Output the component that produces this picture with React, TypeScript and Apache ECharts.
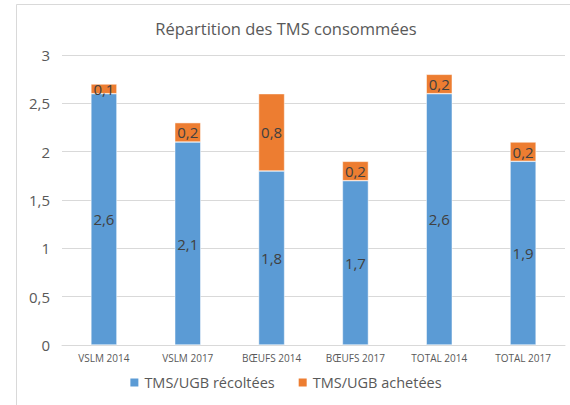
import React, { useEffect, useRef } from "react";
import * as echarts from "echarts";

const categories = ["VSLM 2014", "VSLM 2017", "BŒUFS 2014", "BŒUFS 2017", "TOTAL 2014", "TOTAL 2017"];
const recoltees = [2.6, 2.1, 1.8, 1.7, 2.6, 1.9];
const achetees = [0.1, 0.2, 0.8, 0.2, 0.2, 0.2];
const seriesNames = ["TMS/UGB récoltées", "TMS/UGB achetées"];
const titleText = "Répartition des TMS consommées";

const FONT = "'Open Sans', sans-serif";
const fmt = (v: number) => String(v).replace(".", ",");

export default function App() {
  const ref = useRef<HTMLDivElement>(null);
  useEffect(() => {
    if (!ref.current) return;
    const chart = echarts.init(ref.current, null, { renderer: "svg" });
    const label = {
      show: true,
      position: "inside" as const,
      color: "#404040",
      fontSize: 15,
      fontFamily: FONT,
      formatter: (p: any) => fmt(p.value),
    };
    chart.setOption({
      animation: false,
      backgroundColor: "#fff",
      textStyle: { fontFamily: FONT },
      title: {
        text: titleText,
        left: 281,
        textAlign: "center",
        top: 15,
        textStyle: { color: "#595959", fontSize: 16.5, fontWeight: "normal", fontFamily: FONT },
      },
      graphic: [
        {
          type: "rect",
          shape: { x: 16.5, y: 4.5, width: 700, height: 600 },
          style: { fill: "none", stroke: "#d9d9d9", lineWidth: 1 },
          silent: true,
        },
      ],
      legend: {
        bottom: 10,
        left: "center",
        itemWidth: 10,
        itemHeight: 10,
        itemGap: 22,
        icon: "rect",
        textStyle: { color: "#595959", fontSize: 14.5, fontFamily: FONT },
        data: seriesNames,
      },
      grid: { left: 62, right: 5, top: 55, bottom: 60, containLabel: false },
      xAxis: {
        type: "category",
        data: categories,
        axisTick: { show: false },
        axisLine: { lineStyle: { color: "#d9d9d9" } },
        axisLabel: { color: "#595959", fontSize: 10, fontFamily: FONT, margin: 8 },
      },
      yAxis: {
        type: "value",
        min: 0,
        max: 3,
        interval: 0.5,
        axisLine: { show: false },
        axisTick: { show: false },
        splitLine: { lineStyle: { color: "#d9d9d9" } },
        axisLabel: { color: "#595959", fontSize: 15, fontFamily: FONT, margin: 12, formatter: (v: number) => fmt(v) },
      },
      series: [
        {
          name: seriesNames[0],
          type: "bar",
          stack: "total",
          data: recoltees,
          barWidth: "31%",
          itemStyle: { color: "#5B9BD5", borderColor: "#ffffff", borderWidth: 0.5 },
          label,
        },
        {
          name: seriesNames[1],
          type: "bar",
          stack: "total",
          data: achetees,
          barWidth: "31%",
          itemStyle: { color: "#ED7D31", borderColor: "#ffffff", borderWidth: 0.5 },
          label,
        },
      ],
    });
    return () => chart.dispose();
  }, []);
  return <div ref={ref} style={{ width: 570, height: 405, position: "absolute", left: 0, top: 0 }} />;
}
